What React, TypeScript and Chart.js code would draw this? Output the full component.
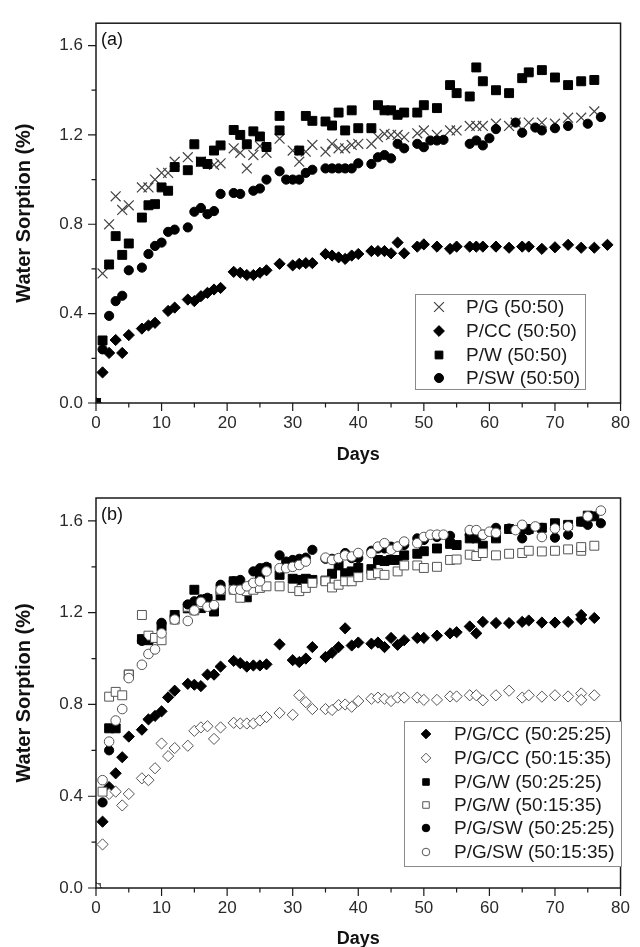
import { useEffect, useRef } from 'react';
import { Chart, registerables } from 'chart.js';
import { drawPoint } from 'chart.js/helpers';

Chart.register(...registerables);

// ---------- tick labels ----------
const Y_TICKS = [0, 0.4, 0.8, 1.2, 1.6];
const Y_MINOR = [0.2, 0.6, 1.0, 1.4];
const X_TICKS = [0, 10, 20, 30, 40, 50, 60, 70, 80];
const X_MINOR = [5, 15, 25, 35, 45, 55, 65, 75];

// ---------- panel (a) data: [day, water sorption %] ----------
const A_PG: number[][] = [[0,0],[1,0.58],[2,0.8],[3,0.925],[4,0.864],[5,0.885],[7,0.965],[8,0.965],[9,1.0],[10,1.03],[11,1.03],[12,1.08],[14,1.1],[16,1.08],[18,1.066],[19,1.073],[21,1.14],[22,1.12],[23,1.05],[24,1.11],[25,1.15],[26,1.12],[28,1.183],[30,1.13],[31,1.08],[32,1.125],[33,1.155],[35,1.125],[36,1.16],[37,1.14],[38,1.14],[39,1.155],[40,1.16],[42,1.16],[43,1.19],[44,1.205],[45,1.2],[46,1.2],[47,1.19],[49,1.207],[50,1.22],[52,1.2],[54,1.22],[55,1.22],[57,1.24],[58,1.24],[59,1.24],[61,1.25],[63,1.24],[64,1.255],[66,1.255],[68,1.255],[70,1.25],[72,1.277],[74,1.277],[76,1.305]];
const A_PCC: number[][] = [[0,0],[1,0.137],[2,0.224],[3,0.282],[4,0.224],[5,0.304],[7,0.333],[8,0.347],[9,0.359],[11,0.412],[12,0.427],[14,0.463],[15,0.456],[16,0.478],[17,0.493],[18,0.508],[19,0.515],[21,0.587],[22,0.583],[23,0.573],[24,0.573],[25,0.583],[26,0.594],[28,0.623],[30,0.616],[31,0.623],[32,0.626],[33,0.626],[35,0.667],[36,0.66],[37,0.652],[38,0.645],[39,0.66],[40,0.667],[42,0.68],[43,0.68],[44,0.68],[45,0.67],[46,0.718],[47,0.67],[49,0.7],[50,0.71],[52,0.7],[54,0.69],[55,0.7],[57,0.7],[58,0.7],[59,0.7],[61,0.7],[63,0.695],[65,0.7],[66,0.7],[68,0.69],[70,0.697],[72,0.708],[74,0.695],[76,0.695],[78,0.708]];
const A_PW: number[][] = [[0,0],[1,0.28],[2,0.62],[3,0.747],[4,0.663],[5,0.714],[7,0.83],[8,0.885],[9,0.89],[10,0.965],[11,0.95],[12,1.056],[14,1.042],[15,1.158],[16,1.08],[17,1.07],[18,1.13],[19,1.153],[21,1.222],[22,1.2],[23,1.158],[24,1.216],[25,1.193],[26,1.146],[28,1.285],[28,1.22],[31,1.13],[32,1.285],[33,1.263],[35,1.26],[36,1.242],[37,1.3],[38,1.22],[39,1.31],[40,1.23],[42,1.23],[43,1.333],[44,1.31],[45,1.31],[46,1.29],[47,1.3],[49,1.3],[50,1.333],[52,1.32],[54,1.423],[55,1.387],[57,1.372],[58,1.502],[59,1.44],[61,1.4],[63,1.387],[65,1.454],[66,1.48],[68,1.49],[70,1.457],[72,1.423],[74,1.44],[76,1.446]];
const A_PSW: number[][] = [[0,0],[1,0.24],[2,0.39],[3,0.456],[4,0.48],[5,0.594],[7,0.606],[8,0.667],[9,0.703],[10,0.718],[11,0.766],[12,0.776],[14,0.786],[15,0.856],[16,0.873],[17,0.845],[18,0.859],[19,0.936],[21,0.94],[22,0.936],[24,0.95],[25,0.96],[26,1.0],[28,1.037],[29,1.0],[30,1.0],[31,1.0],[32,1.03],[33,1.044],[35,1.05],[36,1.05],[37,1.05],[38,1.05],[39,1.05],[40,1.073],[42,1.07],[43,1.1],[44,1.11],[45,1.095],[46,1.16],[47,1.14],[49,1.16],[50,1.145],[51,1.175],[52,1.175],[53,1.178],[57,1.16],[58,1.175],[59,1.153],[60,1.185],[61,1.226],[64,1.255],[65,1.21],[67,1.233],[68,1.22],[70,1.23],[72,1.24],[75,1.25],[77,1.28]];

// ---------- panel (b) data ----------
const B_PGCC_25: number[][] = [[0,0],[1,0.289],[2,0.44],[3,0.5],[4,0.57],[5,0.66],[7,0.69],[8,0.735],[9,0.75],[10,0.77],[11,0.831],[12,0.86],[14,0.89],[15,0.886],[16,0.88],[17,0.93],[18,0.93],[19,0.965],[21,0.99],[22,0.98],[23,0.965],[24,0.97],[25,0.97],[26,0.975],[28,1.062],[30,0.993],[31,0.985],[32,1.0],[33,1.05],[35,1.007],[36,1.025],[37,1.05],[38,1.132],[39,1.057],[40,1.07],[42,1.065],[43,1.07],[44,1.05],[45,1.09],[46,1.06],[47,1.08],[49,1.09],[50,1.09],[52,1.1],[54,1.11],[55,1.115],[57,1.14],[58,1.11],[59,1.16],[61,1.155],[63,1.155],[65,1.16],[66,1.166],[68,1.157],[70,1.157],[72,1.16],[74,1.19],[74,1.172],[76,1.177]];
const B_PGCC_15: number[][] = [[0,0],[1,0.19],[2,0.41],[3,0.42],[4,0.36],[5,0.41],[7,0.478],[8,0.47],[9,0.522],[10,0.63],[11,0.575],[12,0.61],[14,0.62],[15,0.685],[16,0.7],[17,0.705],[18,0.65],[19,0.7],[21,0.72],[22,0.717],[23,0.717],[24,0.717],[25,0.73],[26,0.745],[28,0.763],[30,0.755],[31,0.84],[32,0.81],[33,0.78],[35,0.78],[36,0.776],[37,0.797],[38,0.8],[39,0.79],[40,0.815],[42,0.825],[43,0.83],[44,0.825],[45,0.815],[46,0.83],[47,0.83],[49,0.83],[50,0.82],[52,0.82],[54,0.835],[55,0.835],[57,0.84],[58,0.84],[59,0.818],[61,0.84],[63,0.86],[65,0.83],[66,0.84],[68,0.834],[70,0.84],[72,0.835],[74,0.848],[74,0.82],[76,0.84]];
const B_PGW_25: number[][] = [[0,0],[2,0.696],[3,0.696],[5,0.93],[7,1.085],[8,1.08],[9,1.09],[10,1.14],[12,1.19],[14,1.219],[15,1.3],[16,1.22],[17,1.26],[18,1.205],[19,1.275],[21,1.337],[22,1.316],[23,1.267],[24,1.322],[25,1.365],[26,1.394],[28,1.365],[30,1.348],[31,1.343],[32,1.348],[33,1.343],[35,1.34],[36,1.37],[37,1.406],[38,1.372],[39,1.38],[40,1.395],[42,1.39],[43,1.43],[44,1.425],[45,1.43],[46,1.43],[47,1.45],[49,1.457],[50,1.468],[52,1.48],[54,1.5],[55,1.495],[57,1.524],[58,1.524],[59,1.492],[61,1.524],[63,1.565],[65,1.565],[66,1.565],[68,1.57],[70,1.59],[72,1.583],[74,1.597],[75,1.623],[76,1.62]];
const B_PGW_15: number[][] = [[0,0],[1,0.42],[2,0.834],[3,0.855],[4,0.84],[5,0.93],[7,1.19],[8,1.1],[9,1.09],[10,1.08],[12,1.17],[14,1.226],[15,1.21],[16,1.237],[19,1.3],[21,1.3],[22,1.265],[23,1.294],[24,1.3],[25,1.308],[26,1.315],[28,1.315],[30,1.308],[31,1.294],[32,1.308],[33,1.33],[35,1.337],[36,1.31],[37,1.322],[38,1.337],[39,1.337],[40,1.355],[42,1.365],[43,1.372],[44,1.365],[46,1.38],[47,1.406],[49,1.406],[50,1.395],[52,1.4],[54,1.43],[55,1.432],[57,1.453],[58,1.447],[59,1.46],[61,1.45],[63,1.457],[65,1.46],[66,1.47],[68,1.467],[70,1.47],[72,1.476],[74,1.47],[74,1.486],[76,1.492]];
const B_PGSW_25: number[][] = [[0,0],[1,0.373],[2,0.6],[7,1.077],[10,1.156],[12,1.185],[14,1.236],[15,1.25],[16,1.258],[17,1.265],[19,1.322],[21,1.337],[22,1.343],[24,1.38],[25,1.394],[26,1.4],[28,1.45],[29,1.423],[30,1.43],[31,1.435],[32,1.44],[33,1.474],[35,1.435],[36,1.435],[38,1.46],[39,1.438],[40,1.438],[42,1.47],[43,1.48],[44,1.48],[45,1.488],[46,1.488],[47,1.495],[49,1.524],[50,1.517],[52,1.53],[54,1.535],[57,1.54],[58,1.53],[59,1.54],[61,1.57],[63,1.567],[65,1.524],[66,1.56],[68,1.57],[70,1.527],[72,1.54],[74,1.597],[75,1.583],[77,1.59]];
const B_PGSW_15: number[][] = [[0,0],[1,0.47],[2,0.638],[3,0.73],[4,0.78],[5,0.915],[7,0.973],[8,1.02],[9,1.04],[10,1.11],[12,1.17],[14,1.164],[15,1.21],[16,1.247],[17,1.226],[18,1.233],[19,1.3],[21,1.3],[22,1.3],[23,1.315],[24,1.33],[25,1.337],[26,1.38],[28,1.394],[29,1.394],[30,1.4],[31,1.408],[32,1.423],[35,1.44],[36,1.43],[37,1.438],[38,1.45],[39,1.445],[40,1.46],[42,1.46],[43,1.488],[44,1.503],[45,1.474],[46,1.488],[47,1.51],[49,1.503],[50,1.53],[51,1.54],[52,1.54],[53,1.54],[57,1.56],[58,1.56],[59,1.54],[60,1.553],[61,1.548],[64,1.56],[65,1.583],[67,1.576],[68,1.53],[70,1.567],[72,1.576],[75,1.62],[77,1.645]];

// ---------- styles ----------
const FONT = "'Liberation Sans', Arial, Helvetica, sans-serif";
const AXIS_COLOR = '#1a1a1a';
const OPEN_COLOR = '#555555';

type MarkerStyle = { pointStyle: string; radius: number; legendRadius: number; fill: string; stroke: string; borderWidth: number };
const CROSS: MarkerStyle = { pointStyle: 'crossRot', radius: 7, legendRadius: 7, fill: 'rgba(0,0,0,0)', stroke: '#444', borderWidth: 1.2 };
const DIAMOND: MarkerStyle = { pointStyle: 'rectRot', radius: 5.6, legendRadius: 5.4, fill: '#000', stroke: '#000', borderWidth: 1 };
const SQUARE: MarkerStyle = { pointStyle: 'rect', radius: 6.3, legendRadius: 5.5, fill: '#000', stroke: '#000', borderWidth: 1 };
const CIRCLE: MarkerStyle = { pointStyle: 'circle', radius: 4.6, legendRadius: 4.5, fill: '#000', stroke: '#000', borderWidth: 1 };
const B_DIAMOND: MarkerStyle = { ...DIAMOND, legendRadius: 4.8 };
const B_DIAMOND_OPEN: MarkerStyle = { ...DIAMOND, fill: '#fff', stroke: OPEN_COLOR, legendRadius: 4.8 };
const B_SQUARE: MarkerStyle = { ...SQUARE, legendRadius: 4.6 };
const B_SQUARE_OPEN: MarkerStyle = { ...SQUARE, fill: '#fff', stroke: OPEN_COLOR, legendRadius: 4.6 };
const B_CIRCLE: MarkerStyle = { ...CIRCLE, legendRadius: 3.8 };
const B_CIRCLE_OPEN: MarkerStyle = { ...CIRCLE, radius: 4.8, fill: '#fff', stroke: OPEN_COLOR, legendRadius: 3.8 };

type Series = { label: string; points: number[][]; style: MarkerStyle };
type Panel = {
  tag: string;
  canvasTop: number;
  height: number;
  padTop: number;
  xAxisHeight: number;
  xTitlePad: number;
  legend: { box: number[]; rows: number[]; markerX: number; textX: number };
  series: Series[];
};

const PANELS: Panel[] = [
  {
    tag: '(a)', canvasTop: 0, height: 470, padTop: 14, xAxisHeight: 67, xTitlePad: 4,
    legend: { box: [415, 294, 585, 389], rows: [307, 331, 355, 378], markerX: 439, textX: 466 },
    series: [
      { label: 'P/G (50:50)', points: A_PG, style: CROSS },
      { label: 'P/CC (50:50)', points: A_PCC, style: DIAMOND },
      { label: 'P/W (50:50)', points: A_PW, style: SQUARE },
      { label: 'P/SW (50:50)', points: A_PSW, style: CIRCLE },
    ],
  },
  {
    tag: '(b)', canvasTop: 470, height: 480, padTop: 28, xAxisHeight: 62, xTitlePad: 0,
    legend: { box: [404, 251, 621, 396], rows: [264, 288, 312, 335, 358, 382], markerX: 426, textX: 454 },
    series: [
      { label: 'P/G/CC (50:25:25)', points: B_PGCC_25, style: B_DIAMOND },
      { label: 'P/G/CC (50:15:35)', points: B_PGCC_15, style: B_DIAMOND_OPEN },
      { label: 'P/G/W (50:25:25)', points: B_PGW_25, style: B_SQUARE },
      { label: 'P/G/W (50:15:35)', points: B_PGW_15, style: B_SQUARE_OPEN },
      { label: 'P/G/SW (50:25:25)', points: B_PGSW_25, style: B_CIRCLE },
      { label: 'P/G/SW (50:15:35)', points: B_PGSW_15, style: B_CIRCLE_OPEN },
    ],
  },
];

function makeDecorPlugin(panel: Panel) {
  return {
    id: 'decor' + panel.tag,
    afterDraw(chart: any) {
      const { ctx, chartArea } = chart;
      const { left, right, top, bottom } = chartArea;
      const xs = chart.scales.x;
      const ys = chart.scales.y;
      ctx.save();
      // frame
      ctx.strokeStyle = AXIS_COLOR;
      ctx.lineWidth = 1.5;
      ctx.strokeRect(left, top, right - left, bottom - top);
      // ticks
      ctx.lineWidth = 1.2;
      ctx.beginPath();
      Y_TICKS.forEach((v) => { const y = ys.getPixelForValue(v); ctx.moveTo(left - 8, y); ctx.lineTo(left, y); });
      Y_MINOR.forEach((v) => { const y = ys.getPixelForValue(v); ctx.moveTo(left - 4.5, y); ctx.lineTo(left, y); });
      X_TICKS.forEach((v) => { const x = xs.getPixelForValue(v); ctx.moveTo(x, bottom); ctx.lineTo(x, bottom + 8); });
      X_MINOR.forEach((v) => { const x = xs.getPixelForValue(v); ctx.moveTo(x, bottom); ctx.lineTo(x, bottom + 4.5); });
      ctx.stroke();
      // panel tag
      ctx.fillStyle = '#111';
      ctx.font = `18px ${FONT}`;
      ctx.textAlign = 'left';
      ctx.textBaseline = 'middle';
      ctx.fillText(panel.tag, left + 5, top + 17);
      // legend
      const lg = panel.legend;
      const [bx1, by1, bx2, by2] = lg.box;
      ctx.fillStyle = '#fff';
      ctx.fillRect(bx1, by1, bx2 - bx1, by2 - by1);
      ctx.strokeStyle = '#8a8a8a';
      ctx.lineWidth = 1;
      ctx.strokeRect(bx1 + 0.5, by1 + 0.5, bx2 - bx1, by2 - by1);
      panel.series.forEach((s, i) => {
        const y = lg.rows[i];
        ctx.fillStyle = s.style.fill;
        ctx.strokeStyle = s.style.stroke;
        ctx.lineWidth = s.style.borderWidth;
        drawPoint(ctx, { pointStyle: s.style.pointStyle as any, rotation: 0, radius: s.style.legendRadius, borderWidth: s.style.borderWidth }, lg.markerX, y);
        ctx.fillStyle = '#1a1a1a';
        ctx.font = `19px ${FONT}`;
        ctx.textAlign = 'left';
        ctx.textBaseline = 'middle';
        ctx.fillText(s.label, lg.textX, y + 1);
      });
      ctx.restore();
    },
  };
}

function buildConfig(panel: Panel): any {
  const n = panel.series.length;
  return {
    type: 'scatter',
    data: {
      datasets: panel.series.map((s, i) => ({
        label: s.label,
        data: s.points.map(([x, y]) => ({ x, y })),
        pointStyle: s.style.pointStyle,
        pointRadius: s.style.radius,
        pointHoverRadius: s.style.radius,
        pointBackgroundColor: s.style.fill,
        pointBorderColor: s.style.stroke,
        pointBorderWidth: s.style.borderWidth,
        showLine: false,
        order: n - i,
        clip: 0,
      })),
    },
    options: {
      animation: false,
      responsive: false,
      maintainAspectRatio: false,
      events: [],
      layout: { padding: { left: 0, right: 10, top: panel.padTop, bottom: 0 } },
      plugins: { legend: { display: false }, tooltip: { enabled: false } },
      scales: {
        x: {
          type: 'linear',
          min: 0,
          max: 80,
          afterBuildTicks: (s: any) => { s.ticks = X_TICKS.map((v) => ({ value: v })); },
          afterFit: (s: any) => { s.height = panel.xAxisHeight; },
          grid: { display: false, drawTicks: false },
          border: { display: false },
          ticks: { autoSkip: false, maxRotation: 0, padding: 10, color: '#2a2a2a', font: { size: 17, family: FONT }, callback: (v: any) => String(v) },
          title: { display: true, text: 'Days', color: '#111', font: { size: 18, weight: 'bold', family: FONT }, padding: { top: 0, bottom: panel.xTitlePad } },
        },
        y: {
          type: 'linear',
          min: 0,
          max: 1.7,
          afterBuildTicks: (s: any) => { s.ticks = Y_TICKS.map((v) => ({ value: v })); },
          afterFit: (s: any) => { s.width = 96; },
          grid: { display: false, drawTicks: false },
          border: { display: false },
          ticks: { autoSkip: false, padding: 13, color: '#2a2a2a', font: { size: 17, family: FONT }, callback: (v: any) => Number(v).toFixed(1) },
          title: { display: true, text: 'Water Sorption (%)', color: '#111', font: { size: 20, weight: 'bold', family: FONT }, padding: { top: 12, bottom: 0 } },
        },
      },
    },
    plugins: [makeDecorPlugin(panel)],
  };
}

function PanelChart({ panel }: { panel: Panel }) {
  const ref = useRef<HTMLCanvasElement | null>(null);
  useEffect(() => {
    if (!ref.current) return;
    const chart = new Chart(ref.current, buildConfig(panel));
    return () => chart.destroy();
  }, [panel]);
  return (
    <canvas
      ref={ref}
      width={640}
      height={panel.height}
      style={{ position: 'absolute', left: 0, top: panel.canvasTop, width: 640, height: panel.height, display: 'block' }}
    />
  );
}

export default function App() {
  return (
    <div style={{ position: 'absolute', left: 0, top: 0, width: 640, height: 947, overflow: 'hidden', background: '#fff' }}>
      {PANELS.map((p) => (
        <PanelChart key={p.tag} panel={p} />
      ))}
    </div>
  );
}
